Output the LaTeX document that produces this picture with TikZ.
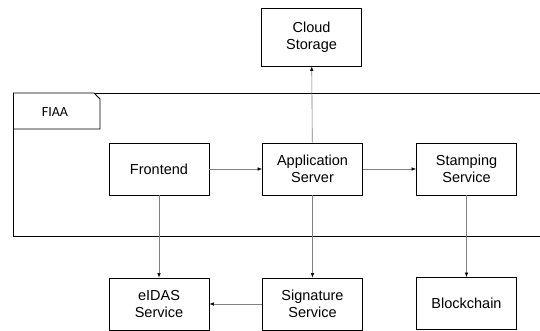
\documentclass[tikz,border=0pt]{standalone}
\usepackage{fontspec}
\setmainfont{Liberation Sans}
\newfontfamily\tabfont{Carlito}
\usetikzlibrary{arrows.meta}
\begin{document}
\begin{tikzpicture}[x=1pt,y=-1pt,
  box/.style={draw=black,line width=0.8pt,fill=white,minimum width=100pt,minimum height=52pt,
    inner sep=0pt,align=center,font=\fontsize{14.5}{17}\selectfont},
  conn/.style={draw=black!50,line width=0.6pt,-{Latex[length=4.5pt,width=3.5pt,black]}},
  frame/.style={draw=black,line width=0.8pt}]
\useasboundingbox (0,0) rectangle (540,331);
% frame
\draw[frame] (540,93) -- (13.5,93) -- (13.5,236) -- (540,236);
\draw[frame,fill=white] (13.5,93) -- (94,93) -- (100,99) -- (100,129) -- (13.5,129) -- cycle;
\node[font=\tabfont\fontsize{14}{16}\selectfont] (fiaa) at (55,112) {FIAA};
% nodes
\node[box,minimum height=58pt] (cloud) at (311.5,37) {Cloud\\Storage};
\node[box] (front) at (159,169) {Frontend};
\node[box] (app) at (312.5,169) {Application\\Server};
\node[box] (stamp) at (466.5,169) {Stamping\\Service};
\node[box] (eidas) at (159,304) {eIDAS\\Service};
\node[box] (sig) at (312.5,304) {Signature\\Service};
\node[box] (block) at (466.5,303.5) {Blockchain};
% connectors
\draw[conn] (app) -- (cloud);
\draw[conn] (front) -- (app);
\draw[conn] (app) -- (stamp);
\draw[conn] (front) -- (eidas);
\draw[conn] (app) -- (sig);
\draw[conn] (sig) -- (eidas);
\draw[conn] (stamp) -- (block);
\end{tikzpicture}
\end{document}
